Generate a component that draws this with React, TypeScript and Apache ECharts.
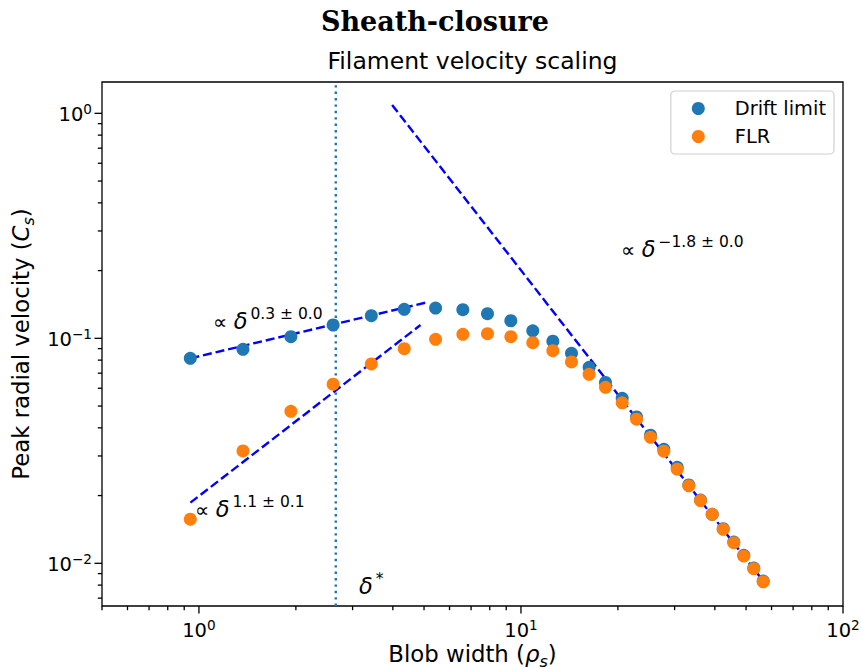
import React, { useEffect, useRef } from "react";
import * as echarts from "echarts";

// ---- data ----
const blobWidth = [0.94, 1.37, 1.93, 2.61, 3.43, 4.34, 5.43, 6.6, 7.87, 9.3, 10.88, 12.56, 14.35, 16.28, 18.3, 20.62, 22.85, 25.25, 27.77, 30.56, 33.2, 36.1, 39.25, 42.46, 45.8, 49.19, 52.84, 56.52];
const driftLimit = [0.0815, 0.0894, 0.1017, 0.1146, 0.126, 0.1345, 0.1363, 0.134, 0.1286, 0.1197, 0.108, 0.0971, 0.0858, 0.0743, 0.0637, 0.0541, 0.0447, 0.0371, 0.0321, 0.0267, 0.0223, 0.0191, 0.0165, 0.01425, 0.01243, 0.01085, 0.00953, 0.00834];
const flr = [0.0157, 0.0316, 0.0474, 0.0625, 0.0769, 0.0899, 0.099, 0.1042, 0.1048, 0.1017, 0.0956, 0.0881, 0.0785, 0.0692, 0.0606, 0.0517, 0.0437, 0.0363, 0.0315, 0.0262, 0.0221, 0.019, 0.0165, 0.01416, 0.01235, 0.01077, 0.00946, 0.00828];

const fitDriftSmall = [[0.941, 0.0815], [5.05, 0.144]];
const fitFlrSmall = [[0.941, 0.0186], [4.875, 0.1146]];
const fitLarge = [[3.98, 1.089], [56.5, 0.00835]];
const deltaStar = 2.66;

const X_MIN = 0.5;
const X_MAX = 100;
const Y_MIN = 0.00646;
const Y_MAX = 1.378;

const xMajorTicks = [1, 10, 100];
const xMinorTicks = [0.5, 0.6, 0.7, 0.8, 0.9, 2, 3, 4, 5, 6, 7, 8, 9, 20, 30, 40, 50, 60, 70, 80, 90];
const yMajorTicks = [0.01, 0.1, 1];
const yMinorTicks = [0.007, 0.008, 0.009, 0.02, 0.03, 0.04, 0.05, 0.06, 0.07, 0.08, 0.09, 0.2, 0.3, 0.4, 0.5, 0.6, 0.7, 0.8, 0.9];

const seriesNames = ["Drift limit", "FLR"];
const annotations = [
  { label: "∝ ", exp: "0.3 ± 0.0", x: 213, y: 332 },
  { label: "∝ ", exp: "−1.8 ± 0.0", x: 621, y: 260 },
  { label: "∝ ", exp: "1.1 ± 0.1", x: 195, y: 520 },
];

const BLUE = "#1f77b4";
const ORANGE = "#ff7f0e";
const FONT = "DejaVu Sans";

const MAJOR_LEN = 7.5;
const MINOR_LEN = 4.2;

function tickSeries(axis: "x" | "y", values: number[], len: number) {
  return {
    type: "custom",
    coordinateSystem: "cartesian2d",
    silent: true,
    clip: false,
    z: 20,
    data: values.map((v) => (axis === "x" ? [v, Y_MIN] : [X_MIN, v])),
    renderItem: (_params: any, api: any) => {
      const p = api.coord([api.value(0), api.value(1)]);
      const shape =
        axis === "x"
          ? { x1: p[0], y1: p[1], x2: p[0], y2: p[1] + len }
          : { x1: p[0] - len, y1: p[1], x2: p[0], y2: p[1] };
      return { type: "line", shape, style: { stroke: "#000", lineWidth: 1.3 } };
    },
  };
}

function powLabel(v: number) {
  const e = Math.log10(v);
  const r = Math.round(e);
  if (Math.abs(e - r) > 1e-6) return "";
  const ex = r < 0 ? "−" + Math.abs(r) : String(r);
  return "{b|10}{s|" + ex + "}";
}

const tickRich = {
  b: { fontFamily: FONT, fontSize: 19.5, lineHeight: 22, verticalAlign: "bottom", color: "#000" },
  s: { fontFamily: FONT, fontSize: 13.6, lineHeight: 10, verticalAlign: "top", color: "#000" },
};

const nameRich = {
  n: { fontFamily: FONT, fontSize: 22.8, lineHeight: 27, verticalAlign: "top", color: "#000" },
  i: { fontFamily: FONT, fontSize: 22.8, fontStyle: "italic", lineHeight: 27, verticalAlign: "top", color: "#000" },
  sub: { fontFamily: FONT, fontSize: 16, fontStyle: "italic", lineHeight: 20, verticalAlign: "bottom", color: "#000" },
};

const annRich = {
  p: { fontFamily: FONT, fontSize: 20, lineHeight: 26, verticalAlign: "bottom", color: "#000" },
  d: { fontFamily: FONT, fontSize: 22.5, fontStyle: "italic", lineHeight: 26, verticalAlign: "bottom", color: "#000" },
  s: { fontFamily: FONT, fontSize: 15.5, lineHeight: 15, verticalAlign: "top", color: "#000", padding: [0, 0, 0, 3] },
};

export default function App() {
  const ref = useRef<HTMLDivElement>(null);
  useEffect(() => {
    if (!ref.current) return;
    const chart = echarts.init(ref.current, undefined, { renderer: "svg" });
    const option: any = {
      animation: false,
      backgroundColor: "#fff",
      grid: {
        left: 102, right: 18, top: 82, bottom: 63,
        outerBoundsMode: "none",
        containLabel: false,
        show: true, borderColor: "#000", borderWidth: 1.3, backgroundColor: "transparent",
      },
      legend: {
        data: seriesNames.map((n) => ({ name: n, icon: "circle" })),
        orient: "vertical",
        right: 27,
        top: 91,
        itemWidth: 13,
        itemHeight: 13,
        itemGap: 5,
        padding: [6, 8, 6, 21],
        backgroundColor: "#fff",
        borderColor: "#d0d0d0",
        borderWidth: 1.2,
        borderRadius: 4,
        textStyle: { fontFamily: FONT, fontSize: 19.4, color: "#000", padding: [0, 0, 0, 25], lineHeight: 23 },
        selectedMode: false,
      },
      xAxis: {
        type: "log",
        logBase: 10,
        min: X_MIN,
        max: X_MAX,
        axisLine: { show: false },
        axisTick: { show: false },
        minorTick: { show: false },
        splitLine: { show: false },
        axisLabel: { formatter: powLabel, rich: tickRich, margin: 12, showMinLabel: true, showMaxLabel: true },
        name: "{n|Blob width (}{i|ρ}{sub|s}{n|)}",
        nameLocation: "middle",
        nameGap: 36,
        nameMoveOverlap: false,
        nameTextStyle: { rich: nameRich },
      },
      yAxis: {
        type: "log",
        logBase: 10,
        min: Y_MIN,
        max: Y_MAX,
        axisLine: { show: false },
        axisTick: { show: false },
        minorTick: { show: false },
        splitLine: { show: false },
        axisLabel: { formatter: powLabel, rich: tickRich, margin: 10 },
        name: "{n|Peak radial velocity (}{i|C}{sub|s}{n|)}",
        nameLocation: "middle",
        nameGap: 66,
        nameMoveOverlap: false,
        nameTextStyle: { rich: nameRich },
      },
      series: [
        {
          type: "line",
          data: [[deltaStar, Y_MIN], [deltaStar, Y_MAX]],
          symbol: "none",
          silent: true,
          z: 1,
          lineStyle: { color: BLUE, width: 2.4, type: [2.4, 4] },
        },
        ...[fitDriftSmall, fitFlrSmall, fitLarge].map((d) => ({
          type: "line",
          data: d,
          symbol: "none",
          silent: true,
          z: 1,
          lineStyle: { color: "#0000ff", width: 2.4, type: [9, 3.9] },
        })),
        {
          name: seriesNames[0],
          type: "scatter",
          data: blobWidth.map((x, i) => [x, driftLimit[i]]),
          symbolSize: 13,
          itemStyle: { color: BLUE, opacity: 1 },
          z: 3,
        },
        {
          name: seriesNames[1],
          type: "scatter",
          data: blobWidth.map((x, i) => [x, flr[i]]),
          symbolSize: 13,
          itemStyle: { color: ORANGE, opacity: 1 },
          z: 4,
        },
        tickSeries("x", xMajorTicks, MAJOR_LEN),
        tickSeries("x", xMinorTicks, MINOR_LEN),
        tickSeries("y", yMajorTicks, MAJOR_LEN),
        tickSeries("y", yMinorTicks, MINOR_LEN),
      ],
      graphic: [
        {
          type: "text",
          x: 435,
          y: 21,
          style: { text: "Sheath-closure", font: "bold 27px 'DejaVu Serif'", fill: "#000", align: "center", verticalAlign: "middle" },
        },
        {
          type: "text",
          x: 472.5,
          y: 61,
          style: { text: "Filament velocity scaling", font: "23.5px 'DejaVu Sans'", fill: "#000", align: "center", verticalAlign: "middle" },
        },
        ...annotations.map((a) => ({
          type: "text",
          x: a.x,
          y: a.y,
          style: { text: "{p|" + a.label + "}{d|δ}{s|" + a.exp + "}", rich: annRich, align: "left", verticalAlign: "bottom" },
        })),
        {
          type: "text",
          x: 359,
          y: 597,
          style: { text: "{d|δ}{s|*}", rich: annRich, align: "left", verticalAlign: "bottom" },
        },
      ],
    };
    chart.setOption(option);
    return () => chart.dispose();
  }, []);
  return <div ref={ref} style={{ position: "fixed", left: 0, top: 0, width: 861, height: 669, background: "#fff" }} />;
}
